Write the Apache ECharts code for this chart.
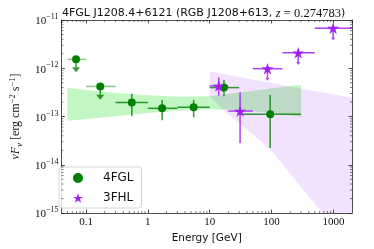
<!DOCTYPE html>
<html><head><meta charset="utf-8">
<script src="https://cdn.jsdelivr.net/npm/echarts@6/dist/echarts.min.js"></script>
<style>html,body{margin:0;padding:0;background:#fff}#c{width:374px;height:249px}</style>
</head><body><div id="c"></div>
<script>
// ---- 4FGL (green) ----
const fglE    = [0.069, 0.17, 0.55, 1.7, 5.5, 17, 95];
const fglElo  = [0.05, 0.1, 0.3, 1, 3, 10, 30];
const fglEhi  = [0.1, 0.3, 1, 3, 10, 30, 300];
const fglF    = [1.53e-12, 4.2e-13, 1.96e-13, 1.48e-13, 1.55e-13, 3.98e-13, 1.11e-13];
const fglFlo  = [8.3e-13, 2.22e-13, 1.01e-13, 8.4e-14, 9.7e-14, 2.64e-13, 2.22e-14];
const fglFhi  = [null, null, 2.95e-13, 2.19e-13, 2.22e-13, 5.7e-13, 2.81e-13];
const fglUL   = [1, 1, 0, 0, 0, 0, 0];
// ---- 3FHL (purple) ----
const fhlE    = [14, 31, 86, 270, 990];
const fhlElo  = [10, 20, 50, 150, 500];
const fhlEhi  = [20, 50, 150, 500, 2000];
const fhlF    = [4.3e-13, 1.3e-13, 9.8e-13, 2.09e-12, 6.77e-12];
const fhlFlo  = [2.72e-13, 2.8e-14, 5.5e-13, 1.17e-12, 3.78e-12];
const fhlFhi  = [6.45e-13, 3.19e-13, null, null, null];
const fhlUL   = [0, 0, 1, 1, 1];
// ---- model bands ----
const fglBandE  = [0.05, 0.1, 0.3, 1, 3, 10, 30, 100, 300];
const fglBandLo = [8.2e-14, 8.9e-14, 1.02e-13, 1.18e-13, 1.32e-13, 1.42e-13, 1.36e-13, 1.18e-13, 9.9e-14];
const fglBandHi = [3.9e-13, 3.56e-13, 3.09e-13, 2.75e-13, 2.56e-13, 2.64e-13, 3.16e-13, 3.82e-13, 4.56e-13];
const fhlBandE  = [10, 20, 50, 100, 200, 500, 1000, 2000];
const fhlBandLo = [2.6e-13, 1.12e-13, 4.3e-14, 1.93e-14, 6.5e-15, 1.57e-15, 5.4e-16, 1.8e-16];
const fhlBandHi = [8.6e-13, 7.3e-13, 5.8e-13, 5.0e-13, 4.2e-13, 3.4e-13, 2.9e-13, 2.45e-13];
// ---- axes ----
const xRange = [0.04, 2000];
const yRange = [1e-15, 1e-11];
const seriesNames = ['4FGL', '3FHL'];

const xMinor = [], yMinor = [];
for (let k = -2; k <= 3; k++) for (let m = 2; m <= 9; m++) { const v = m * Math.pow(10, k); if (v > xRange[0] && v < xRange[1]) xMinor.push(v); }
for (let k = -15; k <= -12; k++) for (let m = 2; m <= 9; m++) { yMinor.push(m * Math.pow(10, k)); }

const STAR = 'path://M0,-100 L22.4,-30.8 L95.1,-30.9 L36.2,11.8 L58.8,80.9 L0,38.1 L-58.8,80.9 L-36.2,11.8 L-95.1,-30.9 L-22.4,-30.8 Z';
const GREEN = '#008000', PURPLE = '#a020f0';
const serif = 'Liberation Serif', sans = 'DejaVu Sans';

function bandSeries(E, lo, hi, fill, z) {
  return {
    type: 'custom', silent: true, clip: true, z: z,
    data: E.map((e, i) => [e, lo[i], hi[i]]),
    encode: { x: 0, y: [1, 2] },
    renderItem(params, api) {
      if (params.dataIndex !== 0) return null;
      const pts = [];
      for (let i = 0; i < E.length; i++) pts.push(api.coord([E[i], hi[i]]));
      for (let i = E.length - 1; i >= 0; i--) pts.push(api.coord([E[i], lo[i]]));
      const cs = params.coordSys;
      return { type: 'polygon', shape: { points: pts }, style: { fill: fill },
        clipPath: { type: 'rect', shape: { x: cs.x, y: cs.y, width: cs.width, height: cs.height } } };
    }
  };
}

function errSeries(E, Elo, Ehi, F, Flo, Fhi, UL, col, ulCol, hw, hh, z) {
  return {
    type: 'custom', silent: true, z: z,
    data: E.map((e, i) => [e, F[i]]),
    encode: { x: 0, y: 1 },
    renderItem(params, api) {
      const i = params.dataIndex;
      const c = api.coord([E[i], F[i]]);
      const l = api.coord([Elo[i], F[i]]);
      const r = api.coord([Ehi[i], F[i]]);
      const ch = [];
      ch.push({ type: 'line', shape: { x1: l[0], y1: l[1], x2: r[0], y2: r[1] }, style: { stroke: UL[i] ? ulCol : col, lineWidth: 1.5 } });
      if (UL[i]) {
        const b = api.coord([E[i], Flo[i]]);
        ch.push({ type: 'line', shape: { x1: c[0], y1: c[1], x2: b[0], y2: b[1] - hh }, style: { stroke: col, lineWidth: 1.5 } });
        ch.push({ type: 'polygon', shape: { points: [[b[0] - hw / 2, b[1] - hh], [b[0] + hw / 2, b[1] - hh], [b[0], b[1]]] }, style: { fill: col } });
      } else {
        const t = api.coord([E[i], Fhi[i]]);
        const b = api.coord([E[i], Flo[i]]);
        ch.push({ type: 'line', shape: { x1: t[0], y1: t[1], x2: b[0], y2: b[1] }, style: { stroke: col, lineWidth: 1.5 } });
      }
      return { type: 'group', children: ch };
    }
  };
}

const minorX = {
  type: 'custom', silent: true, z: 10,
  data: xMinor.map(v => [v, 1e-13]),
  encode: { x: 0, y: 1 },
  renderItem(params, api) {
    const p = api.coord([xMinor[params.dataIndex], 1e-13]);
    const cs = params.coordSys;
    const yb = cs.y + cs.height, yt = cs.y;
    return { type: 'group', children: [
      { type: 'line', shape: { x1: p[0], y1: yb, x2: p[0], y2: yb - 2 }, style: { stroke: '#222', lineWidth: 0.6 } },
      { type: 'line', shape: { x1: p[0], y1: yt, x2: p[0], y2: yt + 2 }, style: { stroke: '#222', lineWidth: 0.6 } }
    ] };
  }
};
const minorY = {
  type: 'custom', silent: true, z: 10,
  data: yMinor.map(v => [1, v]),
  encode: { x: 0, y: 1 },
  renderItem(params, api) {
    const p = api.coord([1, yMinor[params.dataIndex]]);
    const cs = params.coordSys;
    const xl = cs.x, xr = cs.x + cs.width;
    return { type: 'group', children: [
      { type: 'line', shape: { x1: xl, y1: p[1], x2: xl + 2, y2: p[1] }, style: { stroke: '#222', lineWidth: 0.6 } },
      { type: 'line', shape: { x1: xr, y1: p[1], x2: xr - 2, y2: p[1] }, style: { stroke: '#222', lineWidth: 0.6 } }
    ] };
  }
};

const axisCommon = {
  type: 'log', logBase: 10,
  axisLine: { show: true, lineStyle: { color: '#222', width: 0.8 } },
  axisTick: { show: true, inside: true, length: 3.5, lineStyle: { color: '#222', width: 0.8 } },
  splitLine: { show: false }
};

const chart = echarts.init(document.getElementById('c'), null, { renderer: 'canvas' });
chart.setOption({
  animation: false,
  backgroundColor: '#fff',
  title: {
    text: '{a|4FGL J1208.4+6121 (RGB J1208+613, }{z|z}{m| = 0.274783}{a|)}',
    left: 57, top: 2,
    textStyle: { fontWeight: 'normal', rich: {
      a: { fontFamily: sans, fontSize: 11, fontWeight: 'normal', color: '#111' },
      z: { fontFamily: serif, fontSize: 12.5, fontStyle: 'italic', fontWeight: 'normal', color: '#111' },
      m: { fontFamily: serif, fontSize: 12.5, fontWeight: 'normal', color: '#111' }
    } }
  },
  grid: { left: 53, right: 22, top: 20, bottom: 33 },
  legend: {
    orient: 'vertical', left: 59, top: 167,
    data: [{ name: seriesNames[0], icon: 'circle' }, { name: seriesNames[1], icon: STAR }],
    itemWidth: 10, itemHeight: 10, itemGap: 8,
    padding: [5, 8, 4, 14],
    borderColor: '#d6d6d6', borderWidth: 1, borderRadius: 3,
    backgroundColor: 'rgba(255,255,255,0.8)',
    formatter: n => '{g| }{t|' + n + '}',
    textStyle: { rich: { g: { width: 15 }, t: { fontFamily: sans, fontSize: 12, color: '#111', lineHeight: 12 } } }
  },
  xAxis: [
    Object.assign({}, axisCommon, {
      min: xRange[0], max: xRange[1], position: 'bottom',
      name: 'Energy [GeV]', nameLocation: 'middle', nameGap: 19,
      nameTextStyle: { fontFamily: sans, fontSize: 10.5, color: '#111' },
      axisLabel: { show: true, showMinLabel: false, showMaxLabel: false, margin: 4,
        fontFamily: serif, fontSize: 11, color: '#111',
        formatter: v => String(Number(v.toPrecision(6))) }
    }),
    Object.assign({}, axisCommon, { min: xRange[0], max: xRange[1], position: 'top', axisLabel: { show: false } })
  ],
  yAxis: [
    Object.assign({}, axisCommon, {
      min: yRange[0], max: yRange[1], position: 'left',
      name: '{i|νF}{s|ν}{a| [erg cm}{p|−2}{a| s}{p|−1}{a|]}',
      nameLocation: 'middle', nameGap: 31, nameRotate: 90,
      nameTextStyle: { rich: {
        i: { fontFamily: serif, fontStyle: 'italic', fontSize: 12, color: '#111', lineHeight: 16, verticalAlign: 'middle' },
        s: { fontFamily: serif, fontStyle: 'italic', fontSize: 8.5, color: '#111', lineHeight: 16, verticalAlign: 'bottom' },
        a: { fontFamily: serif, fontSize: 12, color: '#111', lineHeight: 16, verticalAlign: 'middle' },
        p: { fontFamily: serif, fontSize: 8.5, color: '#111', lineHeight: 16, verticalAlign: 'top' }
      } },
      axisLabel: { show: true, margin: 3,
        formatter: v => { const e = Math.round(Math.log10(v)); return '{b|10}{s|' + (e < 0 ? '−' : '') + Math.abs(e) + '}'; },
        rich: {
          b: { fontFamily: serif, fontSize: 11, color: '#111', lineHeight: 14, verticalAlign: 'bottom' },
          s: { fontFamily: serif, fontSize: 8, color: '#111', lineHeight: 14, verticalAlign: 'top' }
        } }
    }),
    Object.assign({}, axisCommon, { min: yRange[0], max: yRange[1], position: 'right', axisLabel: { show: false } })
  ],
  series: [
    bandSeries(fglBandE, fglBandLo, fglBandHi, 'rgba(144,238,144,0.55)', 1),
    bandSeries(fhlBandE, fhlBandLo, fhlBandHi, 'rgba(160,32,240,0.13)', 2),
    errSeries(fglE, fglElo, fglEhi, fglF, fglFlo, fglFhi, fglUL, 'rgba(0,128,0,0.8)', 'rgba(0,128,0,0.45)', 8, 5, 3),
    errSeries(fhlE, fhlElo, fhlEhi, fhlF, fhlFlo, fhlFhi, fhlUL, 'rgba(160,32,240,0.85)', 'rgba(160,32,240,0.85)', 4, 3, 3),
    { type: 'scatter', name: seriesNames[0], z: 5, data: fglE.map((e, i) => [e, fglF[i]]),
      symbol: 'circle', symbolSize: 8, itemStyle: { color: GREEN, opacity: 1 } },
    { type: 'scatter', name: seriesNames[1], z: 6, data: fhlE.map((e, i) => [e, fhlF[i]]),
      symbol: STAR, symbolSize: 12, symbolKeepAspect: true, itemStyle: { color: PURPLE, opacity: 1 } },
    minorX, minorY
  ]
});
</script></body></html>
